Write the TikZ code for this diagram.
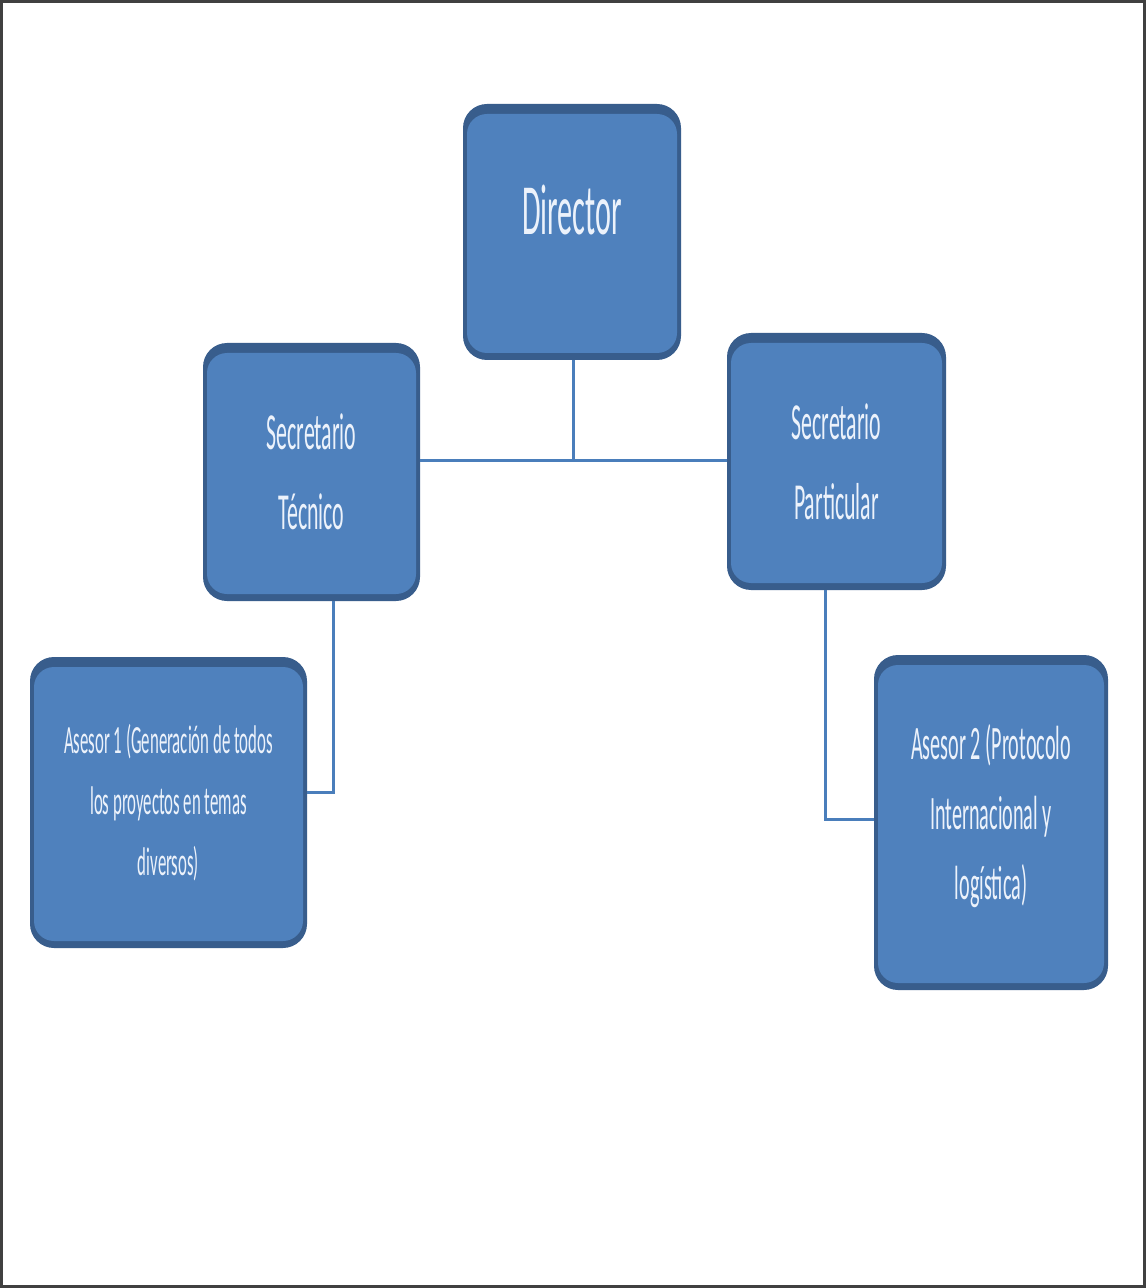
\documentclass[tikz,border=0pt]{standalone}
\usepackage{fontspec}
\setmainfont{Carlito}[FakeStretch=0.42]
\definecolor{boxfill}{RGB}{79,129,189}
\definecolor{boxedge}{RGB}{56,93,140}
\definecolor{linkblue}{RGB}{74,126,187}
\definecolor{boxtext}{RGB}{236,242,251}
\definecolor{framegray}{RGB}{64,64,64}
\begin{document}
\begin{tikzpicture}[x=0.5pt,y=-0.5pt,
  orgbox/.style={shape=rectangle, rounded corners=12pt, fill=boxedge,
    inner sep=0pt, align=center, text=boxtext,
    path picture={\fill[boxfill, rounded corners=10pt]
      ([xshift=2pt,yshift=-5pt]path picture bounding box.north west) rectangle
      ([xshift=-2pt,yshift=3.5pt]path picture bounding box.south east);}},
  link/.style={draw=linkblue, line width=1.5pt}]

\useasboundingbox (0,0) rectangle (1146,1288);
\fill[white] (0,0) rectangle (1146,1288);
\draw[framegray, line width=1.5pt] (1.5,1.5) rectangle (1144.5,1286.5);

% organisation boxes
\node[orgbox, minimum width=109pt, minimum height=128pt,
      font={\fontsize{36}{40}\selectfont}] (dir) at (572,232)
  {\raisebox{11pt}[\height][\depth]{Director}};
\node[orgbox, minimum width=108.5pt, minimum height=129pt,
      font={\fontsize{26}{40}\selectfont}] (tec) at (311.5,472)
  {Secretario\\Técnico};
\node[orgbox, minimum width=109.5pt, minimum height=128.5pt,
      font={\fontsize{26}{40}\selectfont}] (par) at (836.5,461.5)
  {Secretario\\Particular};
\node[orgbox, minimum width=138.5pt, minimum height=145.5pt,
      font={\fontsize{20}{30.5}\selectfont}] (as1) at (168.5,802.5)
  {Asesor 1 (Generación de todos\\los proyectos en temas\\diversos)};
\node[orgbox, minimum width=117pt, minimum height=167.5pt,
      font={\fontsize{24}{35}\selectfont}] (as2) at (991,822.5)
  {\raisebox{3.5pt}[\height][\depth]{\begin{tabular}{@{}c@{}}Asesor 2 (Protocolo\\Internacional y\\logística)\end{tabular}}};

% reporting lines
\coordinate (hub) at (573,460);
\draw[link] ([xshift=0.5pt]dir.south) -- ([xshift=0.5pt]dir.south |- hub);
\draw[link] (tec.east |- hub) -- (par.west |- hub);
\draw[link] ([xshift=10.75pt]tec.south) |- ([yshift=5.25pt]as1.east);
\draw[link] ([xshift=-5.75pt]par.south) |- ([yshift=1.75pt]as2.west);
\end{tikzpicture}
\end{document}
